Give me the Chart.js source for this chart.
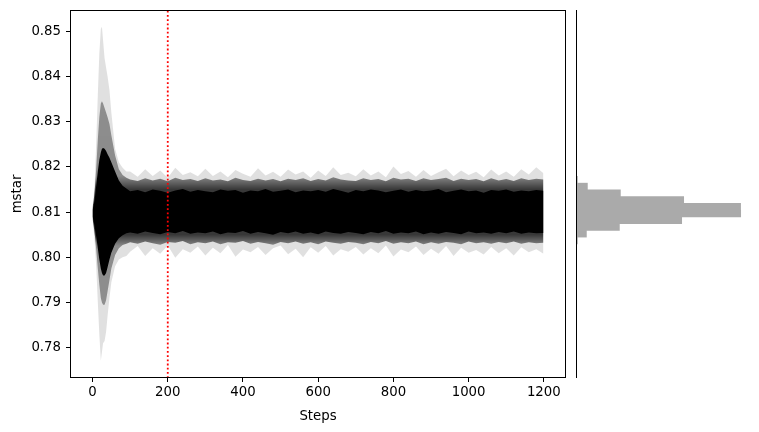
<!DOCTYPE html>
<html>
<head>
<meta charset="utf-8">
<script src="https://cdn.jsdelivr.net/npm/chart.js@4/dist/chart.umd.min.js"></script>
<style>
  html, body { margin: 0; padding: 0; background: #fff; }
  #wrap { position: relative; width: 759px; height: 432px; }
  canvas { position: absolute; left: 0; top: 0; }
</style>
</head>
<body>
<div id="wrap">
  <canvas id="trace" width="759" height="432"></canvas>
  <canvas id="hist" width="759" height="432"></canvas>
</div>
<script>
// ---------- data ----------
const steps = [
  0,3,6,10,14,18,22,25,28,
  32,36,40,45,50,60,70,80,90,
  100,120,140,160,180,200,220,240,260,280,
  300,320,340,360,380,400,420,440,460,480,
  500,520,540,560,580,600,620,640,660,680,
  700,720,740,760,780,800,820,840,860,880,
  900,920,940,960,980,1000,1020,1040,1060,1080,
  1100,1120,1140,1160,1180,1199];

// outermost (faint) walker excursions, upper and lower
const lightHi = [
  0.8115,0.8135,0.8170,0.8260,0.8360,0.8450,0.8505,0.8510,0.8480,
  0.8440,0.8420,0.8400,0.8370,0.8320,0.8240,0.8210,0.8198,0.8190,
  0.8190,0.8178,0.8195,0.8180,0.8192,0.8176,0.8198,0.8182,0.8188,0.8179,
  0.8196,0.8180,0.8190,0.8177,0.8193,0.8185,0.8178,0.8197,0.8181,0.8189,
  0.8178,0.8194,0.8183,0.8190,0.8176,0.8192,0.8180,0.8199,0.8182,0.8187,
  0.8179,0.8195,0.8181,0.8190,0.8177,0.8201,0.8184,0.8191,0.8178,0.8193,
  0.8180,0.8188,0.8196,0.8179,0.8192,0.8182,0.8189,0.8177,0.8194,0.8181,
  0.8190,0.8178,0.8195,0.8183,0.8199,0.8186];
const lightLo = [
  0.8080,0.8060,0.8030,0.7975,0.7900,0.7830,0.7771,0.7790,0.7810,
  0.7815,0.7835,0.7870,0.7910,0.7945,0.7980,0.7995,0.8000,0.8003,
  0.8012,0.8025,0.8003,0.8020,0.8008,0.8026,0.7999,0.8018,0.8010,0.8024,
  0.8004,0.8021,0.8009,0.8027,0.8001,0.8017,0.8011,0.8023,0.8005,0.8020,
  0.8026,0.8007,0.8019,0.8000,0.8022,0.8010,0.8025,0.8004,0.8018,0.8012,
  0.8023,0.8006,0.8020,0.8009,0.8026,0.8002,0.8017,0.8011,0.8024,0.8005,
  0.8019,0.8008,0.8025,0.8003,0.8021,0.8010,0.8016,0.8006,0.8023,0.8009,
  0.8020,0.8004,0.8022,0.8011,0.8018,0.8008];

// dense grey part of the walker cloud
const midHi = [
  0.8110,0.8125,0.8150,0.8200,0.8260,0.8310,0.8340,0.8345,0.8340,
  0.8330,0.8320,0.8310,0.8295,0.8270,0.8225,0.8195,0.8182,0.8176,
  0.8172,0.8169,0.8175,0.8170,0.8174,0.8168,0.8176,0.8171,0.8173,0.8169,
  0.8175,0.8170,0.8172,0.8168,0.8176,0.8171,0.8169,0.8174,0.8170,0.8173,
  0.8168,0.8174,0.8171,0.8175,0.8169,0.8173,0.8170,0.8177,0.8172,0.8170,
  0.8169,0.8175,0.8171,0.8173,0.8168,0.8176,0.8172,0.8174,0.8169,0.8175,
  0.8171,0.8173,0.8176,0.8169,0.8174,0.8171,0.8173,0.8168,0.8175,0.8170,
  0.8173,0.8169,0.8175,0.8171,0.8174,0.8172];
const midLo = [
  0.8085,0.8070,0.8050,0.8015,0.7975,0.7940,0.7910,0.7900,0.7895,
  0.7895,0.7905,0.7925,0.7950,0.7975,0.8005,0.8020,0.8027,0.8030,
  0.8033,0.8030,0.8035,0.8031,0.8028,0.8034,0.8032,0.8036,0.8029,0.8033,
  0.8031,0.8035,0.8029,0.8033,0.8032,0.8036,0.8030,0.8034,0.8031,0.8028,
  0.8034,0.8031,0.8035,0.8030,0.8033,0.8029,0.8035,0.8032,0.8030,0.8034,
  0.8032,0.8029,0.8034,0.8031,0.8036,0.8030,0.8033,0.8031,0.8035,0.8029,
  0.8033,0.8030,0.8034,0.8032,0.8029,0.8035,0.8031,0.8033,0.8030,0.8034,
  0.8031,0.8035,0.8030,0.8033,0.8031,0.8032];

// solid black core of the walker cloud
const coreHi = [
  0.8105,0.8115,0.8130,0.8160,0.8190,0.8215,0.8232,0.8240,0.8242,
  0.8240,0.8235,0.8228,0.8220,0.8210,0.8190,0.8170,0.8158,0.8152,
  0.8146,0.8149,0.8144,0.8150,0.8147,0.8143,0.8148,0.8151,0.8145,0.8149,
  0.8146,0.8144,0.8150,0.8147,0.8149,0.8143,0.8148,0.8146,0.8151,0.8145,
  0.8147,0.8150,0.8144,0.8148,0.8146,0.8149,0.8145,0.8151,0.8147,0.8143,
  0.8149,0.8146,0.8150,0.8148,0.8144,0.8147,0.8150,0.8145,0.8149,0.8146,
  0.8148,0.8151,0.8144,0.8147,0.8150,0.8146,0.8148,0.8143,0.8149,0.8147,
  0.8150,0.8145,0.8148,0.8146,0.8149,0.8147];
const coreLo = [
  0.8090,0.8080,0.8065,0.8045,0.8020,0.7995,0.7975,0.7965,0.7960,
  0.7960,0.7965,0.7978,0.7995,0.8010,0.8030,0.8042,0.8049,0.8053,
  0.8055,0.8052,0.8057,0.8054,0.8051,0.8056,0.8053,0.8058,0.8052,0.8055,
  0.8053,0.8057,0.8051,0.8055,0.8054,0.8058,0.8052,0.8056,0.8053,0.8050,
  0.8056,0.8053,0.8057,0.8052,0.8055,0.8051,0.8057,0.8054,0.8052,0.8056,
  0.8054,0.8051,0.8056,0.8053,0.8058,0.8052,0.8055,0.8053,0.8057,0.8051,
  0.8055,0.8052,0.8056,0.8054,0.8051,0.8057,0.8053,0.8055,0.8052,0.8056,
  0.8053,0.8057,0.8052,0.8055,0.8053,0.8054];

const burnIn = 200;

// histogram of post-burn-in samples (horizontal)
const binCenters = [0.80257,0.80423,0.80589,0.80755,0.80920,0.81086,0.81252,0.81418,0.81584,0.81749];
const binCounts  = [140,1040,4340,10570,16470,16460,10770,4440,1140,140];

const xTicks = [0,200,400,600,800,1000,1200];
const yTicks = [0.78,0.79,0.80,0.81,0.82,0.83,0.84,0.85];

// ---------- chart setup ----------
const X_MIN = -59.95, X_MAX = 1258.95;
const Y_MIN = 0.7733, Y_MAX = 0.8547;

Chart.defaults.font.family = "'DejaVu Sans', sans-serif";
Chart.defaults.font.size = 13.3;
Chart.defaults.color = '#000';
Chart.defaults.animation = false;

const pts = arr => arr.map((v, i) => ({ x: steps[i], y: v }));

const boxPlugin = {
  id: 'box',
  afterDraw(chart) {
    const a = chart.chartArea, c = chart.ctx;
    c.save();
    c.strokeStyle = '#000';
    c.lineWidth = 1;
    c.strokeRect(Math.round(a.left) + 0.5, Math.round(a.top) + 0.5,
                 Math.round(a.right - a.left) - 1, Math.round(a.bottom - a.top) - 1);
    c.restore();
  }
};

// grey fringe gets darker towards the centre of the walker cloud
function fringeFill(ctx) {
  const chart = ctx.chart, a = chart.chartArea;
  if (!a) return 'rgba(0,0,0,0.5)';
  const y = chart.scales.y;
  const g = chart.ctx.createLinearGradient(0, a.top, 0, a.bottom);
  const p = v => Math.min(1, Math.max(0, (y.getPixelForValue(v) - a.top) / (a.bottom - a.top)));
  g.addColorStop(0, 'rgba(0,0,0,0.35)');
  g.addColorStop(p(0.8180), 'rgba(0,0,0,0.38)');
  g.addColorStop(p(0.8150), 'rgba(0,0,0,0.75)');
  g.addColorStop(p(0.8050), 'rgba(0,0,0,0.75)');
  g.addColorStop(p(0.8025), 'rgba(0,0,0,0.38)');
  g.addColorStop(1, 'rgba(0,0,0,0.35)');
  return g;
}

const band = (data, fill, color, order) => ({
  type: 'line', data: pts(data), borderWidth: 0, pointRadius: 0,
  fill: fill, backgroundColor: color, order: order, tension: 0
});

new Chart(document.getElementById('trace'), {
  type: 'line',
  data: {
    datasets: [
      band(lightHi, '+1', 'rgba(0,0,0,0.12)', 5),
      band(lightLo, false, 'rgba(0,0,0,0)', 5),
      band(midHi, '+1', fringeFill, 4),
      band(midLo, false, 'rgba(0,0,0,0)', 4),
      band(coreHi, '+1', '#000000', 3),
      band(coreLo, false, 'rgba(0,0,0,0)', 3),
      { type: 'line', data: [{ x: burnIn, y: Y_MIN }, { x: burnIn, y: Y_MAX }],
        borderColor: '#ff0000', borderWidth: 1.8, borderDash: [1.8, 2.4],
        pointRadius: 0, fill: false, order: 1 }
    ]
  },
  options: {
    responsive: false,
    events: [],
    layout: { padding: { left: 0, top: 10, right: 193, bottom: 0 } },
    plugins: { legend: { display: false }, tooltip: { enabled: false } },
    scales: {
      x: {
        type: 'linear', min: X_MIN, max: X_MAX,
        afterBuildTicks: s => { s.ticks = xTicks.map(v => ({ value: v })); },
        afterFit: s => { s.height = 54; s.paddingLeft = 0; s.paddingRight = 0; },
        ticks: { padding: 3, maxRotation: 0, autoSkip: false, callback: v => String(v) },
        grid: { display: true, drawOnChartArea: false, drawTicks: true, tickLength: 4, tickColor: '#000' },
        border: { display: false },
        title: { display: true, text: 'Steps', padding: { top: 0, bottom: 7 } }
      },
      y: {
        type: 'linear', min: Y_MIN, max: Y_MAX,
        afterBuildTicks: s => { s.ticks = yTicks.map(v => ({ value: v })); },
        afterFit: s => { s.width = 70; s.paddingTop = 0; s.paddingBottom = 0; },
        ticks: { padding: 5, autoSkip: false, callback: v => v.toFixed(2) },
        grid: { display: true, drawOnChartArea: false, drawTicks: true, tickLength: 4, tickColor: '#000' },
        border: { display: false },
        title: { display: true, text: 'mstar', padding: { top: 10, bottom: 0 } }
      }
    }
  },
  plugins: [boxPlugin]
});

const spinePlugin = {
  id: 'spine',
  afterDraw(chart) {
    const a = chart.chartArea, c = chart.ctx;
    c.save();
    c.strokeStyle = '#000';
    c.lineWidth = 1;
    c.beginPath();
    c.moveTo(Math.round(a.left) + 0.5, a.top);
    c.lineTo(Math.round(a.left) + 0.5, a.bottom);
    c.stroke();
    c.restore();
  }
};

new Chart(document.getElementById('hist'), {
  type: 'bar',
  data: {
    datasets: [{
      data: binCenters.map((c, i) => ({ x: binCounts[i], y: c })),
      backgroundColor: '#aaaaaa', borderWidth: 0,
      barPercentage: 1, categoryPercentage: 1
    }]
  },
  options: {
    responsive: false,
    events: [],
    indexAxis: 'y',
    layout: { padding: { left: 576, top: 10, right: 10, bottom: 54 } },
    plugins: { legend: { display: false }, tooltip: { enabled: false } },
    scales: {
      x: { type: 'linear', min: 0, max: 17300, display: false },
      y: { type: 'linear', min: Y_MIN, max: Y_MAX, display: false }
    }
  },
  plugins: [spinePlugin]
});
</script>
</body>
</html>
